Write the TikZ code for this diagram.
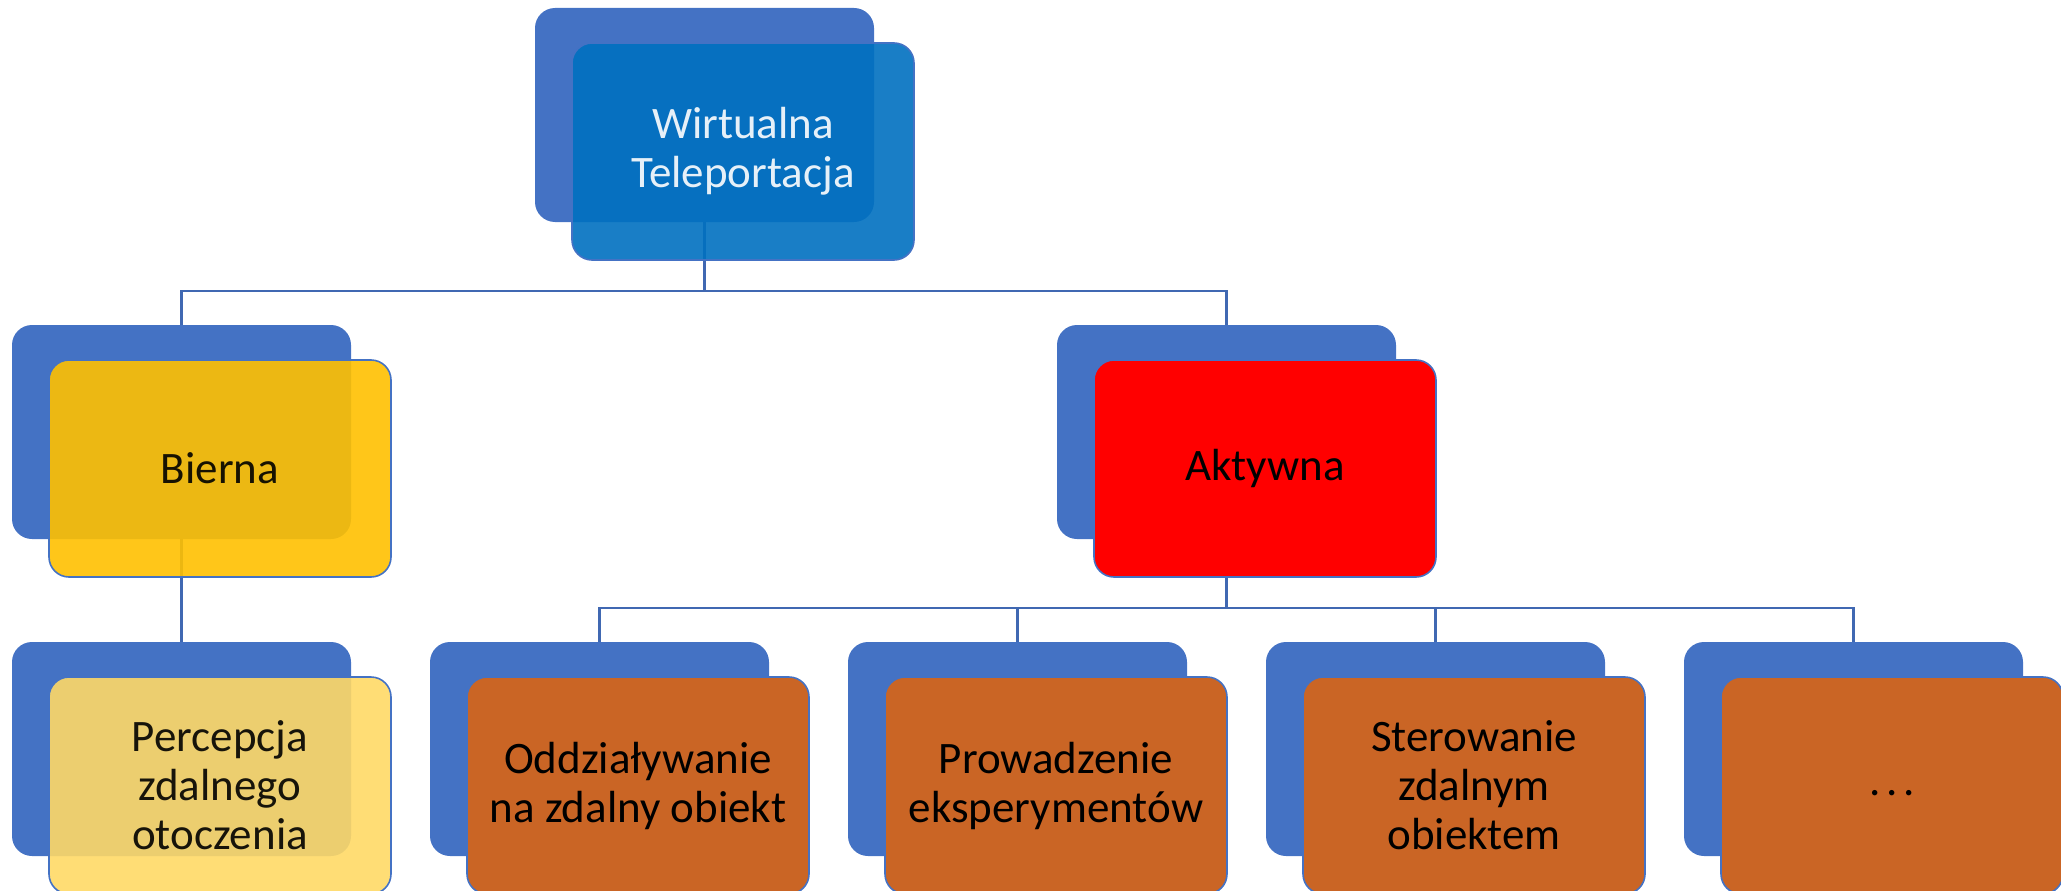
\documentclass[tikz,border=0pt]{standalone}
\usepackage{fontspec}
\setmainfont{Carlito}
\definecolor{backblue}{HTML}{4472C4}
\definecolor{linkblue}{HTML}{4068B2}
\definecolor{topblue}{HTML}{0070C0}
\definecolor{gold}{HTML}{FFC000}
\definecolor{lightgold}{HTML}{FFD966}
\definecolor{rust}{HTML}{CA6525}
\begin{document}
\begin{tikzpicture}[x=1pt,y=-1pt,
  backbox/.style={rectangle, rounded corners=20pt, fill=backblue,
    minimum width=339pt, minimum height=214pt, inner sep=0pt, outer sep=0pt},
  frontbox/.style={rectangle, rounded corners=20pt, draw=backblue, line width=1.6pt,
    minimum width=342pt, minimum height=217pt, inner sep=0pt, outer sep=0pt,
    align=center, font=\fontsize{45}{49}\selectfont},
  conn/.style={draw=linkblue, line width=2.2pt}]

\useasboundingbox (0,0) rectangle (2061,891);
\clip (0,0) rectangle (2061,891);

% back plates
\node[backbox] (tb) at (704.5,115) {};
\node[backbox] (bb) at (181.5,432) {};
\node[backbox] (ab) at (1226.5,432) {};
\node[backbox] (pb) at (181.5,749) {};
\node[backbox] (ob) at (599.5,749) {};
\node[backbox] (wb) at (1017.5,749) {};
\node[backbox] (sb) at (1435.5,749) {};
\node[backbox] (eb) at (1853.5,749) {};

% bus lines
\coordinate (bus1) at (0,291);
\coordinate (bus2) at (0,608);

% connectors
\draw[conn] (tb.south) -- (tb.south |- bus1);
\draw[conn] (bb.north) |- (ab.north |- bus1) -- (ab.north);
\draw[conn] (bb.south) -- (pb.north);
\draw[conn] (ab.south) -- (ab.south |- bus2);
\draw[conn] (ob.north) |- (eb.north |- bus2) -- (eb.north);
\draw[conn] (wb.north) -- (wb.north |- bus2);
\draw[conn] (sb.north) -- (sb.north |- bus2);

% front cards
\node[frontbox, fill=topblue, fill opacity=0.9, text=white] (tf) at (743,151.5)
  {Wirtualna\\Teleportacja};
\node[frontbox, fill=gold, fill opacity=0.9] (bf) at (220,468.5) {Bierna};
\node[frontbox, fill=red] (af) at (1265,468.5) {Aktywna};
\node[frontbox, fill=lightgold, fill opacity=0.9] (pf) at (220,785.5)
  {Percepcja\\zdalnego\\otoczenia};
\node[frontbox, fill=rust] (of) at (638,785.5)
  {Oddziaływanie\\na zdalny obiekt};
\node[frontbox, fill=rust] (wf) at (1056,785.5)
  {Prowadzenie\\eksperymentów};
\node[frontbox, fill=rust] (sf) at (1474,785.5)
  {Sterowanie\\zdalnym\\obiektem};
\node[frontbox, fill=rust] (ef) at (1892,785.5) {\strut.\kern0.12em.\kern0.12em.};
\end{tikzpicture}
\end{document}
